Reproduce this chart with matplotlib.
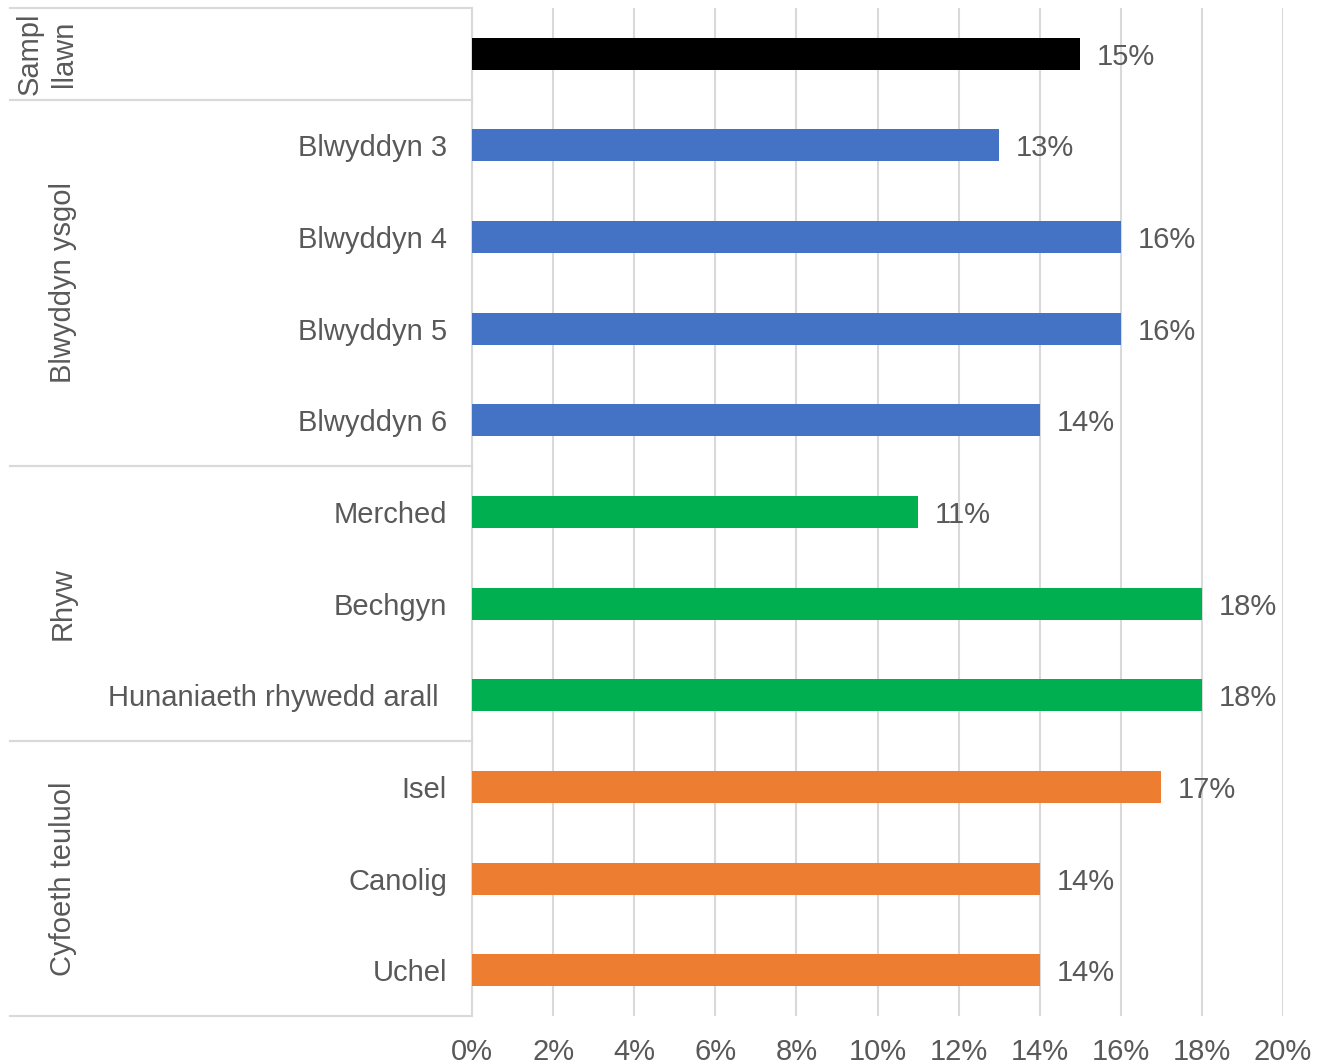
import matplotlib.pyplot as plt
from matplotlib.transforms import blended_transform_factory

plt.rcParams['font.family'] = ['Liberation Sans', 'DejaVu Sans']

categories = ['', 'Blwyddyn 3', 'Blwyddyn 4', 'Blwyddyn 5', 'Blwyddyn 6',
              'Merched', 'Bechgyn', 'Hunaniaeth rhywedd arall ',
              'Isel', 'Canolig', 'Uchel']
values = [15, 13, 16, 16, 14, 11, 18, 18, 17, 14, 14]
colors = ['#000000'] + ['#4472C4'] * 4 + ['#00B050'] * 3 + ['#ED7D31'] * 3
groups = ['Sampl\nllawn', 'Blwyddyn ysgol', 'Rhyw', 'Cyfoeth teuluol']
group_bounds = [(-0.5, 0.5), (0.5, 4.5), (4.5, 7.5), (7.5, 10.5)]
xticks = [0, 2, 4, 6, 8, 10, 12, 14, 16, 18, 20]

txt = '#595959'
line = '#D9D9D9'
fs = 21

fig = plt.figure(figsize=(13.17, 10.64), dpi=100)
ax = fig.add_axes([472 / 1317, 1 - 1016 / 1064, 811 / 1317, 1008 / 1064])

y = list(range(len(categories)))
ax.barh(y, values, height=0.35, color=colors, zorder=3)
ax.set_ylim(10.5, -0.5)
ax.set_xlim(0, 20)

ax.set_xticks(xticks)
ax.set_xticklabels([f'{t}%' for t in xticks], fontsize=fs, color=txt)
ax.tick_params(axis='x', length=0, pad=16)
ax.set_yticks(y)
ax.set_yticklabels(categories, fontsize=fs, color=txt)
ax.tick_params(axis='y', length=0, pad=18)
ax.grid(axis='x', color=line, linewidth=1.5, zorder=0)
for s in ['top', 'right', 'bottom']:
    ax.spines[s].set_visible(False)
ax.spines['left'].set_color(line)
ax.spines['left'].set_linewidth(1.5)

for yi, v in zip(y, values):
    ax.annotate(f'{v}%', (v, yi), xytext=(12, 0), textcoords='offset points',
                va='center_baseline', ha='left', fontsize=fs, color=txt)

# group separators and labels
tr = blended_transform_factory(ax.transAxes, ax.transData)
xl = (10 - 472) / 811
for (a, b), g in zip(group_bounds, groups):
    for yy in (a, b):
        ax.plot([xl, 0], [yy, yy], color=line, linewidth=1.5,
                transform=tr, clip_on=False)
    xg = (63 - 472) / 811 if '\n' not in g else (47 - 472) / 811
    ax.text(xg, (a + b) / 2, g, rotation=90, ha='center', va='center',
            fontsize=fs, color=txt, transform=tr, linespacing=1.3)

fig.savefig('out.png', dpi=100)
